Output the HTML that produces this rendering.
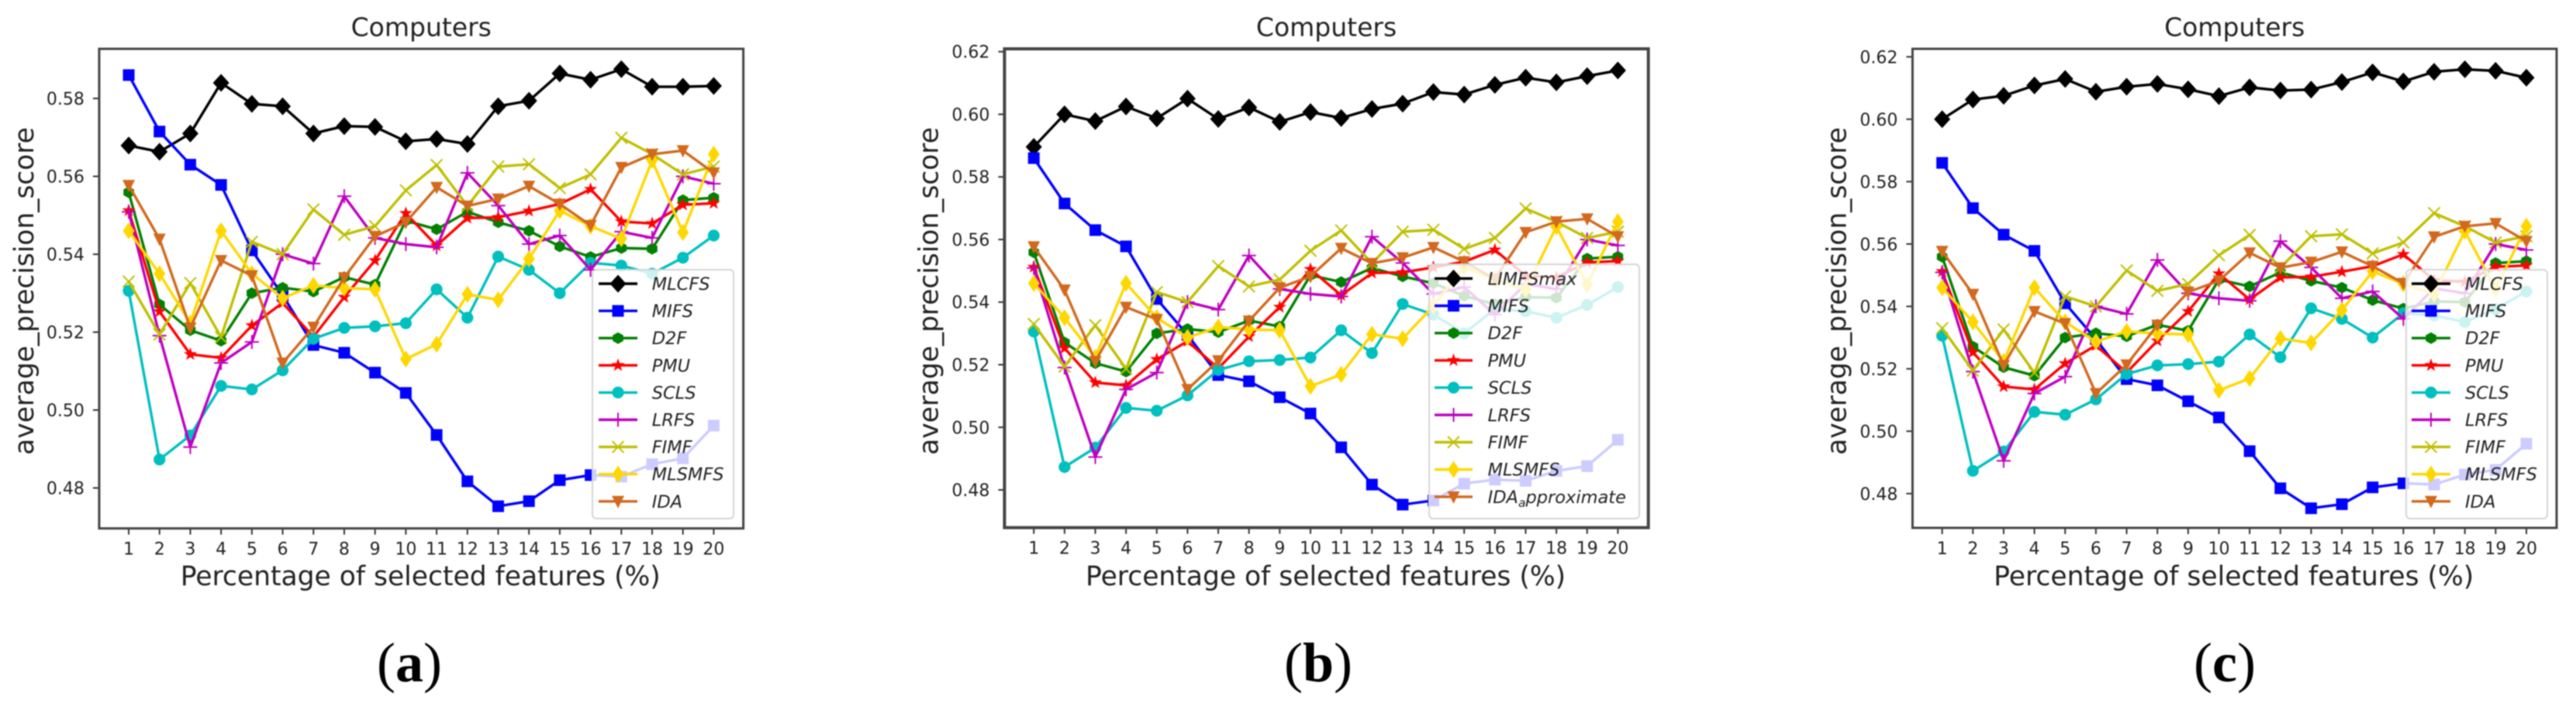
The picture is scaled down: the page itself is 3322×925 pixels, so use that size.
<!DOCTYPE html>
<html lang="en">
<head>
<meta charset="utf-8">
<title>Computers average precision score charts</title>
<style>
html,body{margin:0;padding:0;background:#fff;width:3322px;height:925px;overflow:hidden}
#figure{display:block;position:absolute;left:0;top:0;filter:blur(0.7px)}
text{font-family:"DejaVu Sans","Liberation Sans",sans-serif;fill:#222}
.caption{font-family:"Liberation Serif",serif;fill:#000;font-size:72px}
.caption tspan{font-weight:bold}
</style>
</head>
<body>
<svg id="figure" xmlns="http://www.w3.org/2000/svg" width="3322" height="925" viewBox="0 0 3322 925">
  <text class="caption" x="528" y="879" text-anchor="middle">(<tspan>a</tspan>)</text>
  <text class="caption" x="1700" y="879" text-anchor="middle">(<tspan>b</tspan>)</text>
  <text class="caption" x="2869" y="879" text-anchor="middle">(<tspan>c</tspan>)</text>
</svg>
<script>
// ---- chart data ----
const xCategories = [1,2,3,4,5,6,7,8,9,10,11,12,13,14,15,16,17,18,19,20];
const yTicksA = [0.48,0.50,0.52,0.54,0.56,0.58];
const yTicksB = [0.48,0.50,0.52,0.54,0.56,0.58,0.60,0.62];
const yTicksC = [0.48,0.50,0.52,0.54,0.56,0.58,0.60,0.62];
const topSeriesA = [0.5679,0.5663,0.5710,0.5840,0.5786,0.5780,0.5710,0.5729,0.5727,0.5690,0.5696,0.5683,0.5780,0.5794,0.5864,0.5848,0.5875,0.5830,0.5830,0.5832];
const topSeriesB = [0.5896,0.6000,0.5978,0.6025,0.5987,0.6050,0.5985,0.6022,0.5976,0.6007,0.5988,0.6017,0.6034,0.6071,0.6063,0.6094,0.6117,0.6102,0.6122,0.6140];
const topSeriesC = [0.6000,0.6063,0.6075,0.6108,0.6129,0.6088,0.6104,0.6113,0.6096,0.6074,0.6102,0.6092,0.6095,0.6119,0.6150,0.6121,0.6152,0.6160,0.6155,0.6133];
const mifs = [0.5860,0.5715,0.5630,0.5578,0.5410,0.5295,0.5167,0.5147,0.5096,0.5044,0.4936,0.4817,0.4753,0.4766,0.4820,0.4833,0.4829,0.4861,0.4876,0.4960];
const d2f = [0.5559,0.5271,0.5205,0.5178,0.5300,0.5314,0.5304,0.5341,0.5322,0.5486,0.5464,0.5509,0.5482,0.5460,0.5420,0.5393,0.5416,0.5414,0.5539,0.5545];
const pmu = [0.5512,0.5253,0.5143,0.5134,0.5217,0.5275,0.5188,0.5290,0.5384,0.5505,0.5422,0.5493,0.5495,0.5511,0.5529,0.5567,0.5484,0.5479,0.5527,0.5531];
const scls = [0.5306,0.4873,0.4935,0.5062,0.5053,0.5102,0.5183,0.5211,0.5215,0.5223,0.5310,0.5237,0.5394,0.5360,0.5300,0.5378,0.5371,0.5350,0.5391,0.5448];
const lrfs = [0.5509,0.5191,0.4905,0.5121,0.5175,0.5400,0.5376,0.5549,0.5442,0.5426,0.5418,0.5609,0.5525,0.5426,0.5448,0.5360,0.5458,0.5442,0.5600,0.5581];
const fimf = [0.5330,0.5194,0.5326,0.5187,0.5432,0.5400,0.5515,0.5450,0.5472,0.5564,0.5629,0.5524,0.5625,0.5631,0.5570,0.5605,0.5699,0.5657,0.5605,0.5625];
const mlsmfs = [0.5460,0.5350,0.5223,0.5460,0.5350,0.5287,0.5320,0.5313,0.5310,0.5131,0.5169,0.5297,0.5283,0.5388,0.5512,0.5472,0.5440,0.5641,0.5456,0.5657];
const ida = [0.5577,0.5439,0.5211,0.5384,0.5345,0.5121,0.5213,0.5340,0.5446,0.5482,0.5572,0.5524,0.5542,0.5575,0.5529,0.5474,0.5623,0.5657,0.5666,0.5609];
const seriesNamesA = ["MLCFS","MIFS","D2F","PMU","SCLS","LRFS","FIMF","MLSMFS","IDA"];
const seriesNamesB = ["LIMFSmax","MIFS","D2F","PMU","SCLS","LRFS","FIMF","MLSMFS","IDA_approximate"];
const seriesNamesC = ["MLCFS","MIFS","D2F","PMU","SCLS","LRFS","FIMF","MLSMFS","IDA"];

// ---- presentation ----
const NS = "http://www.w3.org/2000/svg";
const root = document.getElementById("figure");
const seriesStyles = [
  {color:"#000000", marker:"diamond"},
  {color:"#0000ff", marker:"square"},
  {color:"#008000", marker:"hexagon"},
  {color:"#ff0000", marker:"star"},
  {color:"#00bfbf", marker:"circle"},
  {color:"#bf00bf", marker:"plus"},
  {color:"#bfbf00", marker:"cross"},
  {color:"#ffd700", marker:"thin"},
  {color:"#d2691e", marker:"triangle"}
];
const panelLayouts = [
  {id:"a", left:127.9, right:958.6, top:63, bottom:681.7, x1:166, x20:920.4, tickRefValue:0.58, tickRefY:127, perUnit:100.5/0.02, spine:3,
   ylabelX:43, legend:{l:764,r:946,t:348,b:669,first:366,gap:35.1,h1:772,h2:822,tx:840.7}},
  {id:"b", left:1295.4, right:2125.7, top:63, bottom:680.7, x1:1333.2, x20:2086.4, tickRefValue:0.62, tickRefY:66.7, perUnit:80.76/0.02, spine:4,
   ylabelX:1209.6, legend:{l:1843,r:2114,t:341,b:669,first:359.3,gap:35.2,h1:1850,h2:1899,tx:1918.6}},
  {id:"c", left:2466.4, right:3297, top:63, bottom:681, x1:2504.6, x20:3258, tickRefValue:0.62, tickRefY:73.3, perUnit:80.5/0.02, spine:3,
   ylabelX:2380.7, legend:{l:3103,r:3285,t:348,b:669,first:366,gap:35.1,h1:3110,h2:3160,tx:3179}}
];
const panelTicks = {a:yTicksA, b:yTicksB, c:yTicksC};
const panelNames = {a:seriesNamesA, b:seriesNamesB, c:seriesNamesC};
const panelTop = {a:topSeriesA, b:topSeriesB, c:topSeriesC};

function make(tag, attrs, parent){
  const el = document.createElementNS(NS, tag);
  for(const k in attrs){ el.setAttribute(k, attrs[k]); }
  (parent || root).appendChild(el);
  return el;
}
function xAxis(p, category){
  return p.x1 + (category - 1) * (p.x20 - p.x1) / 19;
}
function yAxis(p, value){
  return p.tickRefY + (p.tickRefValue - value) * p.perUnit;
}
function poly(cx, cy, pts){
  return pts.map(q => (cx + q[0]).toFixed(1) + "," + (cy + q[1]).toFixed(1)).join(" ");
}
function drawMarker(parent, kind, cx, cy, color){
  let el;
  if(kind === "diamond"){
    el = make("polygon", {points:poly(cx,cy,[[0,-11.5],[10.5,0],[0,11.5],[-10.5,0]]), fill:color}, parent);
  } else if(kind === "square"){
    el = make("rect", {x:cx-7.5, y:cy-7.5, width:15, height:15, fill:color}, parent);
  } else if(kind === "hexagon"){
    el = make("polygon", {points:poly(cx,cy,[[0,-7.5],[6.8,-3.7],[6.8,3.7],[0,7.5],[-6.8,3.7],[-6.8,-3.7]]), fill:color}, parent);
  } else if(kind === "star"){
    const pts = [];
    for(let i = 0; i < 10; i++){
      const r = i % 2 ? 3.6 : 9;
      const a = -Math.PI/2 + i*Math.PI/5;
      pts.push([r*Math.cos(a), r*Math.sin(a)]);
    }
    el = make("polygon", {points:poly(cx,cy,pts), fill:color}, parent);
  } else if(kind === "circle"){
    el = make("circle", {cx:cx, cy:cy, r:7.6, fill:color}, parent);
  } else if(kind === "plus"){
    el = make("path", {d:`M${cx-9} ${cy}H${cx+9}M${cx} ${cy-9}V${cy+9}`, stroke:color, "stroke-width":2, fill:"none"}, parent);
  } else if(kind === "cross"){
    el = make("path", {d:`M${cx-7.5} ${cy-7.5}L${cx+7.5} ${cy+7.5}M${cx-7.5} ${cy+7.5}L${cx+7.5} ${cy-7.5}`, stroke:color, "stroke-width":2, fill:"none"}, parent);
  } else if(kind === "thin"){
    el = make("polygon", {points:poly(cx,cy,[[0,-11],[7.5,0],[0,11],[-7.5,0]]), fill:color}, parent);
  } else {
    el = make("polygon", {points:poly(cx,cy,[[-8,-7],[8,-7],[0,9]]), fill:color}, parent);
  }
  return el;
}

function drawPanel(p){
  const ticks = panelTicks[p.id];
  const names = panelNames[p.id];
  const values = [panelTop[p.id], mifs, d2f, pmu, scls, lrfs, fimf, mlsmfs, ida];
  const cx = (p.left + p.right) / 2;

  const g = make("g", {});
  
  

  const title = make("text", {x:cx, y:46.5, "text-anchor":"middle", "font-size":33}, g);
  title.textContent = "Computers";
  
  

  const xTitle = make("text", {x:cx - 1, y:755, "text-anchor":"middle", "font-size":34.5}, g);
  xTitle.textContent = "Percentage of selected features (%)";
  
  

  const yTitle = make("text", {x:p.ylabelX, y:375.5, "text-anchor":"middle", "font-size":34.4, transform:`rotate(-90 ${p.ylabelX} 375.5)`}, g);
  yTitle.textContent = "average_precision_score";
  
  

  xCategories.forEach(function(cat){
    const x = xAxis(p, cat);
    const tick = make("line", {x1:x, x2:x, y1:p.bottom, y2:p.bottom + 8, stroke:"#333", "stroke-width":2}, g);
    
    
    const label = make("text", {x:x, y:p.bottom + 34, "text-anchor":"middle", "font-size":22}, g);
    label.textContent = String(cat);
    
    
  });
  ticks.forEach(function(v){
    const y = yAxis(p, v);
    const tick = make("line", {x1:p.left - 8, x2:p.left, y1:y, y2:y, stroke:"#333", "stroke-width":2}, g);
    
    
    const label = make("text", {x:p.left - 19, y:y + 8, "text-anchor":"end", "font-size":22}, g);
    label.textContent = v.toFixed(2);
    
    
  });

  values.forEach(function(series, i){
    const st = seriesStyles[i];
    const sg = make("g", {}, g);
    
    
    const pts = series.map((v, k) => xAxis(p, xCategories[k]).toFixed(1) + "," + yAxis(p, v).toFixed(1)).join(" ");
    const line = make("polyline", {points:pts, fill:"none", stroke:st.color, "stroke-width":3.4, "stroke-linejoin":"round"}, sg);
    
    
    series.forEach(function(v, k){
      const m = drawMarker(sg, st.marker, xAxis(p, xCategories[k]), yAxis(p, v), st.color);
      
      
    });
  });

  const frame = make("rect", {x:p.left, y:p.top, width:p.right - p.left, height:p.bottom - p.top, fill:"none", stroke:"#444", "stroke-width":p.spine}, g);
  
  

  const lg = p.legend;
  const legendGroup = make("g", {}, g);
  
  
  const box = make("rect", {x:lg.l, y:lg.t, width:lg.r - lg.l, height:lg.b - lg.t, rx:5, fill:"#fff", "fill-opacity":0.8, stroke:"#d5d5d5", "stroke-width":2}, legendGroup);
  
  
  names.forEach(function(name, i){
    const y = lg.first + i * lg.gap;
    const st = seriesStyles[i];
    const entry = make("g", {}, legendGroup);
    
    
    make("line", {x1:lg.h1, x2:lg.h2, y1:y, y2:y, stroke:st.color, "stroke-width":3.4}, entry);
    drawMarker(entry, st.marker, (lg.h1 + lg.h2) / 2, y, st.color);
    const label = make("text", {x:lg.tx, y:y + 8, "font-size":22.5, "font-style":"italic"}, entry);
    const sub = name.indexOf("_");
    if(sub >= 0){
      const a = make("tspan", {}, label);
      a.textContent = name.slice(0, sub);
      const b = make("tspan", {dy:5, "font-size":15.5}, label);
      b.textContent = name.charAt(sub + 1);
      const c = make("tspan", {dy:-5}, label);
      c.textContent = name.slice(sub + 2);
    } else {
      label.textContent = name;
    }
  });
}
panelLayouts.forEach(drawPanel);
</script>
</body>
</html>
